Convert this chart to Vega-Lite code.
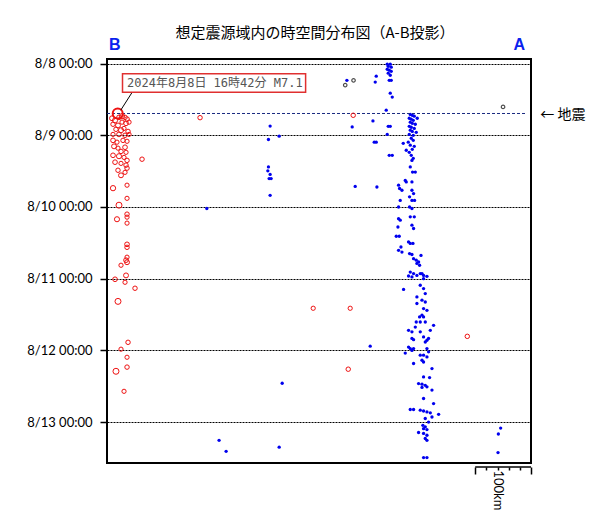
{
  "$schema": "https://vega.github.io/schema/vega-lite/v6.json",
  "width": 424,
  "height": 404,
  "autosize": "none",
  "padding": {"left": 107, "top": 59, "right": 75, "bottom": 62},
  "background": "white",
  "title": {
    "text": "想定震源域内の時空間分布図（A-B投影）",
    "font": "Noto Sans CJK JP",
    "fontSize": 15,
    "fontWeight": "normal",
    "color": "#000000",
    "anchor": "middle",
    "dx": -4,
    "dy": 5,
    "offset": 0
  },
  "datasets": {
    "red": [
      {"km": 19.2, "t": 16.7, "mag": 7.1},
      {"km": 9.0, "t": 18.3, "mag": 3.3},
      {"km": 14.4, "t": 19.0, "mag": 3.4},
      {"km": 21.5, "t": 18.0, "mag": 3.2},
      {"km": 26.9, "t": 17.6, "mag": 3.5},
      {"km": 32.3, "t": 18.0, "mag": 3.1},
      {"km": 35.9, "t": 18.6, "mag": 3.2},
      {"km": 10.8, "t": 20.3, "mag": 3.1},
      {"km": 19.7, "t": 20.7, "mag": 3.3},
      {"km": 26.9, "t": 19.6, "mag": 3.0},
      {"km": 34.1, "t": 20.0, "mag": 3.2},
      {"km": 39.5, "t": 19.6, "mag": 3.0},
      {"km": 16.1, "t": 22.0, "mag": 3.1},
      {"km": 25.1, "t": 22.3, "mag": 3.4},
      {"km": 30.5, "t": 21.7, "mag": 3.0},
      {"km": 37.7, "t": 22.7, "mag": 3.1},
      {"km": 10.8, "t": 23.7, "mag": 3.0},
      {"km": 21.5, "t": 23.7, "mag": 3.2},
      {"km": 32.3, "t": 24.0, "mag": 3.1},
      {"km": 39.5, "t": 23.7, "mag": 3.0},
      {"km": 10.8, "t": 25.7, "mag": 3.2},
      {"km": 17.9, "t": 26.3, "mag": 3.0},
      {"km": 28.7, "t": 25.7, "mag": 3.1},
      {"km": 35.9, "t": 26.0, "mag": 3.0},
      {"km": 12.6, "t": 27.7, "mag": 3.3},
      {"km": 19.7, "t": 28.3, "mag": 3.0},
      {"km": 32.3, "t": 28.0, "mag": 3.2},
      {"km": 25.1, "t": 29.4, "mag": 3.1},
      {"km": 34.1, "t": 29.7, "mag": 3.0},
      {"km": 10.8, "t": 30.7, "mag": 3.2},
      {"km": 21.5, "t": 31.0, "mag": 3.4},
      {"km": 30.5, "t": 31.4, "mag": 3.0},
      {"km": 35.9, "t": 32.4, "mag": 3.1},
      {"km": 14.4, "t": 33.0, "mag": 3.2},
      {"km": 25.1, "t": 33.4, "mag": 3.0},
      {"km": 34.1, "t": 34.0, "mag": 3.1},
      {"km": 62.8, "t": 32.0, "mag": 3.1},
      {"km": 19.7, "t": 35.7, "mag": 3.1},
      {"km": 25.1, "t": 37.4, "mag": 3.3},
      {"km": 32.3, "t": 36.4, "mag": 3.0},
      {"km": 35.9, "t": 35.0, "mag": 3.1},
      {"km": 35.9, "t": 40.7, "mag": 3.0},
      {"km": 10.8, "t": 41.7, "mag": 3.5},
      {"km": 35.9, "t": 45.1, "mag": 3.0},
      {"km": 21.5, "t": 47.4, "mag": 3.9},
      {"km": 35.9, "t": 50.4, "mag": 3.1},
      {"km": 35.9, "t": 51.4, "mag": 3.0},
      {"km": 17.9, "t": 52.1, "mag": 3.4},
      {"km": 35.9, "t": 53.4, "mag": 3.0},
      {"km": 35.9, "t": 60.5, "mag": 3.2},
      {"km": 35.9, "t": 61.5, "mag": 3.1},
      {"km": 35.9, "t": 64.8, "mag": 3.0},
      {"km": 34.1, "t": 65.8, "mag": 3.2},
      {"km": 35.9, "t": 66.5, "mag": 3.3},
      {"km": 25.1, "t": 67.5, "mag": 3.0},
      {"km": 34.1, "t": 70.9, "mag": 3.3},
      {"km": 14.4, "t": 72.2, "mag": 3.2},
      {"km": 32.3, "t": 73.2, "mag": 3.0},
      {"km": 50.2, "t": 75.2, "mag": 3.1},
      {"km": 19.7, "t": 79.6, "mag": 3.9},
      {"km": 37.7, "t": 93.3, "mag": 3.1},
      {"km": 25.1, "t": 95.6, "mag": 3.0},
      {"km": 35.9, "t": 98.3, "mag": 3.0},
      {"km": 16.1, "t": 103.0, "mag": 3.9},
      {"km": 35.9, "t": 101.6, "mag": 3.1},
      {"km": 30.5, "t": 109.7, "mag": 3.0},
      {"km": 166.8, "t": 18.1, "mag": 3.1},
      {"km": 441.3, "t": 17.3, "mag": 3.1},
      {"km": 369.6, "t": 81.9, "mag": 3.0},
      {"km": 435.9, "t": 81.9, "mag": 3.0},
      {"km": 432.4, "t": 102.3, "mag": 3.1},
      {"km": 645.8, "t": 91.3, "mag": 3.1}
    ],
    "black": [
      {"km": 427.0, "t": 7.2},
      {"km": 441.9, "t": 5.6},
      {"km": 709.9, "t": 14.5}
    ],
    "blue": [
      {"km": 502.3, "t": 0.2}, {"km": 507.7, "t": 0.2}, {"km": 504.1, "t": 0.9},
      {"km": 509.5, "t": 1.2}, {"km": 502.3, "t": 1.9}, {"km": 505.9, "t": 2.2},
      {"km": 509.5, "t": 2.6}, {"km": 504.1, "t": 3.2}, {"km": 507.7, "t": 3.9},
      {"km": 505.9, "t": 5.6}, {"km": 509.5, "t": 5.6}, {"km": 507.7, "t": 9.9},
      {"km": 511.3, "t": 11.2}, {"km": 500.5, "t": 15.6}, {"km": 482.6, "t": 4.2},
      {"km": 480.8, "t": 6.2}, {"km": 430.0, "t": 5.6}, {"km": 476.7, "t": 19.2},
      {"km": 439.5, "t": 21.2}, {"km": 504.1, "t": 21.0}, {"km": 507.7, "t": 21.0},
      {"km": 502.3, "t": 23.7}, {"km": 479.0, "t": 26.3}, {"km": 482.6, "t": 26.3},
      {"km": 505.9, "t": 30.7}, {"km": 511.3, "t": 30.7}, {"km": 444.9, "t": 41.1},
      {"km": 483.8, "t": 41.3}, {"km": 292.4, "t": 20.9}, {"km": 289.4, "t": 25.4},
      {"km": 308.6, "t": 24.3}, {"km": 289.4, "t": 34.6}, {"km": 288.3, "t": 35.9},
      {"km": 292.4, "t": 37.1}, {"km": 290.6, "t": 38.5}, {"km": 294.2, "t": 38.5},
      {"km": 292.4, "t": 44.1}, {"km": 178.9, "t": 48.5}, {"km": 314.0, "t": 107.0},
      {"km": 200.9, "t": 126.1}, {"km": 213.5, "t": 129.8}, {"km": 308.6, "t": 128.4},
      {"km": 705.6, "t": 122.0}, {"km": 701.5, "t": 124.0}, {"km": 700.9, "t": 130.2},
      {"km": 471.8, "t": 94.6},
      {"km": 543.6, "t": 17.0}, {"km": 547.2, "t": 17.3}, {"km": 550.8, "t": 17.6},
      {"km": 541.8, "t": 18.3}, {"km": 545.4, "t": 18.6}, {"km": 549.0, "t": 19.0},
      {"km": 556.1, "t": 18.3}, {"km": 543.6, "t": 19.6}, {"km": 547.2, "t": 20.0},
      {"km": 552.6, "t": 20.3}, {"km": 541.8, "t": 21.0}, {"km": 545.4, "t": 21.3},
      {"km": 550.8, "t": 21.7}, {"km": 543.6, "t": 22.3}, {"km": 547.2, "t": 22.7},
      {"km": 554.3, "t": 23.0}, {"km": 541.8, "t": 23.7}, {"km": 549.0, "t": 24.0},
      {"km": 545.4, "t": 25.0}, {"km": 549.0, "t": 25.7}, {"km": 540.0, "t": 26.3},
      {"km": 543.6, "t": 27.3}, {"km": 550.8, "t": 27.7}, {"km": 547.2, "t": 28.7},
      {"km": 541.8, "t": 29.7}, {"km": 545.4, "t": 30.7}, {"km": 549.0, "t": 31.7},
      {"km": 531.0, "t": 26.7}, {"km": 536.4, "t": 29.0}, {"km": 546.6, "t": 32.4},
      {"km": 543.6, "t": 34.6}, {"km": 547.7, "t": 36.3}, {"km": 552.6, "t": 36.3},
      {"km": 534.6, "t": 39.1}, {"km": 536.4, "t": 39.6}, {"km": 546.6, "t": 39.6},
      {"km": 522.6, "t": 40.7}, {"km": 524.4, "t": 41.8}, {"km": 528.7, "t": 42.4},
      {"km": 546.6, "t": 42.4}, {"km": 549.5, "t": 43.5}, {"km": 542.3, "t": 44.6},
      {"km": 546.6, "t": 45.8}, {"km": 551.3, "t": 45.8}, {"km": 525.6, "t": 45.8},
      {"km": 522.6, "t": 48.0}, {"km": 542.3, "t": 48.0}, {"km": 546.6, "t": 48.5},
      {"km": 550.8, "t": 51.3}, {"km": 543.6, "t": 51.3}, {"km": 522.6, "t": 51.9},
      {"km": 525.6, "t": 52.4}, {"km": 521.5, "t": 54.7}, {"km": 518.5, "t": 57.8},
      {"km": 523.8, "t": 57.8}, {"km": 546.6, "t": 54.1}, {"km": 549.5, "t": 55.2},
      {"km": 526.9, "t": 61.4}, {"km": 522.6, "t": 62.5}, {"km": 528.7, "t": 63.1},
      {"km": 540.5, "t": 59.7}, {"km": 543.6, "t": 60.2}, {"km": 548.4, "t": 60.2},
      {"km": 542.3, "t": 63.6}, {"km": 546.6, "t": 63.9}, {"km": 549.5, "t": 65.3},
      {"km": 554.3, "t": 65.8}, {"km": 558.5, "t": 66.4}, {"km": 562.8, "t": 64.2},
      {"km": 555.5, "t": 66.9}, {"km": 560.3, "t": 67.5}, {"km": 543.6, "t": 69.8},
      {"km": 549.5, "t": 70.3}, {"km": 555.5, "t": 70.9}, {"km": 561.5, "t": 70.3},
      {"km": 567.4, "t": 70.9}, {"km": 573.5, "t": 71.2}, {"km": 540.5, "t": 71.1},
      {"km": 546.6, "t": 71.4}, {"km": 564.6, "t": 70.3}, {"km": 567.4, "t": 72.0},
      {"km": 531.6, "t": 75.6}, {"km": 561.5, "t": 74.2}, {"km": 567.4, "t": 75.3},
      {"km": 570.5, "t": 77.0}, {"km": 555.5, "t": 78.1}, {"km": 564.6, "t": 79.2},
      {"km": 570.5, "t": 79.8}, {"km": 555.5, "t": 80.3}, {"km": 567.4, "t": 82.0},
      {"km": 573.5, "t": 82.6}, {"km": 564.6, "t": 84.2}, {"km": 560.3, "t": 84.8},
      {"km": 567.4, "t": 84.8}, {"km": 554.3, "t": 86.5}, {"km": 561.5, "t": 86.5},
      {"km": 570.5, "t": 86.5}, {"km": 585.4, "t": 87.6}, {"km": 552.6, "t": 88.2},
      {"km": 540.5, "t": 89.3}, {"km": 546.6, "t": 89.8}, {"km": 561.5, "t": 89.8},
      {"km": 579.5, "t": 89.3}, {"km": 546.6, "t": 92.0}, {"km": 549.5, "t": 92.4},
      {"km": 567.4, "t": 91.5}, {"km": 576.4, "t": 92.0}, {"km": 573.5, "t": 92.6},
      {"km": 570.5, "t": 93.2}, {"km": 540.5, "t": 94.9}, {"km": 543.6, "t": 95.4},
      {"km": 549.5, "t": 95.4}, {"km": 546.6, "t": 96.0}, {"km": 534.6, "t": 96.9},
      {"km": 573.5, "t": 95.4}, {"km": 576.4, "t": 96.5}, {"km": 561.5, "t": 97.6},
      {"km": 567.4, "t": 97.6}, {"km": 573.5, "t": 98.2}, {"km": 549.5, "t": 100.4},
      {"km": 564.6, "t": 99.3}, {"km": 567.4, "t": 99.9}, {"km": 582.5, "t": 102.1},
      {"km": 567.4, "t": 104.9}, {"km": 578.2, "t": 105.1}, {"km": 558.5, "t": 107.1},
      {"km": 564.6, "t": 107.3}, {"km": 570.5, "t": 107.7}, {"km": 573.5, "t": 108.2},
      {"km": 564.6, "t": 108.4}, {"km": 567.4, "t": 112.1}, {"km": 582.5, "t": 109.3},
      {"km": 585.4, "t": 113.8}, {"km": 543.6, "t": 115.8}, {"km": 549.5, "t": 115.8},
      {"km": 561.5, "t": 116.0}, {"km": 567.4, "t": 116.3}, {"km": 573.5, "t": 116.6},
      {"km": 579.5, "t": 116.9}, {"km": 582.5, "t": 118.3}, {"km": 594.4, "t": 117.4},
      {"km": 570.5, "t": 118.8}, {"km": 576.4, "t": 120.0}, {"km": 566.2, "t": 121.1},
      {"km": 570.5, "t": 121.6}, {"km": 567.4, "t": 122.2}, {"km": 573.5, "t": 122.5},
      {"km": 558.5, "t": 123.5}, {"km": 567.4, "t": 123.8}, {"km": 573.5, "t": 124.4},
      {"km": 570.5, "t": 125.5}, {"km": 573.5, "t": 126.1}, {"km": 567.4, "t": 131.9},
      {"km": 573.5, "t": 131.9}
    ]
  },
  "layer": [
    {
      "data": {"name": "blue"},
      "mark": {"type": "circle", "color": "#0000ee", "size": 11, "opacity": 1},
      "encoding": {
        "x": {"field": "km", "type": "quantitative", "scale": {"domain": [0, 760], "nice": false, "zero": false}, "axis": null},
        "y": {
          "field": "t", "type": "quantitative",
          "scale": {"domain": [-1.54, 133.7], "reverse": true, "nice": false, "zero": false},
          "axis": {
            "title": null, "values": [0, 24, 48, 72, 96, 120],
            "labelExpr": "'8/' + (8 + datum.value / 24) + ' 00:00'",
            "domain": false, "grid": true, "gridColor": "#000000", "gridDash": [2, 1], "gridWidth": 1, "gridOpacity": 1,
            "ticks": true, "tickSize": 7, "tickColor": "#000000", "tickWidth": 1.5,
            "labelFont": "Lato", "labelFontSize": 13, "labelColor": "#000000", "labelPadding": 8
          }
        }
      }
    },
    {
      "data": {"values": [{}]},
      "mark": {"type": "rule", "color": "#1a2a80", "strokeDash": [3, 2], "strokeWidth": 1},
      "encoding": {
        "x": {"datum": 0, "type": "quantitative", "scale": {"domain": [0, 760], "nice": false, "zero": false}, "axis": null},
        "x2": {"datum": 751.7},
        "y": {"datum": 16.7, "type": "quantitative", "scale": {"domain": [-1.54, 133.7], "reverse": true, "nice": false, "zero": false}, "axis": null}
      }
    },
    {
      "data": {"name": "red"},
      "mark": {"type": "point", "shape": "circle", "filled": false, "color": "#ee1111", "opacity": 1},
      "encoding": {
        "x": {
          "field": "km", "type": "quantitative",
          "scale": {"domain": [0, 760], "nice": false, "zero": false},
          "axis": {
            "orient": "top", "title": null, "values": [13.1, 737.9],
            "labelExpr": "datum.value < 100 ? 'B' : 'A'",
            "domain": false, "grid": false, "ticks": false, "labelFlush": false,
            "labelColor": "#0a22ee", "labelFont": "Liberation Sans", "labelFontWeight": "bold", "labelFontSize": 16, "labelPadding": 7
          }
        },
        "y": {"field": "t", "type": "quantitative", "scale": {"domain": [-1.54, 133.7], "reverse": true, "nice": false, "zero": false}, "axis": null},
        "size": {"field": "mag", "type": "quantitative", "scale": {"domain": [3, 7.1], "range": [18, 100]}, "legend": null},
        "strokeWidth": {"condition": {"test": "datum.mag > 7", "value": 2}, "value": 1}
      }
    },
    {
      "data": {"name": "black"},
      "mark": {"type": "point", "shape": "circle", "filled": false, "color": "#000000", "size": 12, "strokeWidth": 1.2},
      "encoding": {
        "x": {"field": "km", "type": "quantitative", "scale": {"domain": [0, 760], "nice": false, "zero": false}, "axis": null},
        "y": {"field": "t", "type": "quantitative", "scale": {"domain": [-1.54, 133.7], "reverse": true, "nice": false, "zero": false}, "axis": null}
      }
    },
    {
      "data": {"values": [{}]},
      "mark": {"type": "rule", "color": "#000000", "strokeWidth": 1},
      "encoding": {
        "x": {"datum": 44.3, "type": "quantitative", "scale": {"domain": [0, 760], "nice": false, "zero": false}, "axis": null},
        "x2": {"datum": 24.6},
        "y": {"datum": 9.84, "type": "quantitative", "scale": {"domain": [-1.54, 133.7], "reverse": true, "nice": false, "zero": false}, "axis": null},
        "y2": {"datum": 15.6}
      }
    },
    {
      "data": {"values": [{}]},
      "mark": {"type": "rect", "fill": "#ffffff", "stroke": "#e03030", "strokeWidth": 1.5},
      "encoding": {
        "x": {"datum": 27.8, "type": "quantitative", "scale": {"domain": [0, 760], "nice": false, "zero": false}, "axis": null},
        "x2": {"datum": 356},
        "y": {"datum": 3.41, "type": "quantitative", "scale": {"domain": [-1.54, 133.7], "reverse": true, "nice": false, "zero": false}, "axis": null},
        "y2": {"datum": 9.61}
      }
    },
    {
      "data": {"values": [{"label": "2024年8月8日 16時42分 M7.1"}]},
      "mark": {"type": "text", "align": "left", "baseline": "middle", "font": "DejaVu Sans Mono, Noto Sans CJK JP", "fontSize": 12, "color": "#555555"},
      "encoding": {
        "x": {"datum": 35.9, "type": "quantitative", "scale": {"domain": [0, 760], "nice": false, "zero": false}, "axis": null},
        "y": {"datum": 6.5, "type": "quantitative", "scale": {"domain": [-1.54, 133.7], "reverse": true, "nice": false, "zero": false}, "axis": null},
        "text": {"field": "label"}
      }
    },
    {
      "data": {"values": [{"label": "← 地震"}]},
      "mark": {"type": "text", "align": "left", "baseline": "middle", "font": "Noto Sans CJK JP", "fontSize": 14, "color": "#000000", "dy": 2},
      "encoding": {
        "x": {"datum": 776.8, "type": "quantitative", "scale": {"domain": [0, 760], "nice": false, "zero": false}, "axis": null},
        "y": {"datum": 16.7, "type": "quantitative", "scale": {"domain": [-1.54, 133.7], "reverse": true, "nice": false, "zero": false}, "axis": null},
        "text": {"field": "label"}
      }
    },
    {
      "data": {"values": [{}]},
      "mark": {"type": "rule", "color": "#000000", "strokeWidth": 1.5},
      "encoding": {
        "x": {
          "datum": 660, "type": "quantitative",
          "scale": {"domain": [0, 760], "nice": false, "zero": false},
          "axis": {
            "orient": "bottom", "offset": 4, "title": null,
            "values": [660, 680, 700, 720, 740, 760],
            "labelExpr": "datum.value == 700 ? '100km' : ''",
            "domain": false, "grid": false, "ticks": true, "tickColor": "#000000", "tickWidth": 1.5,
            "tickSize": {"condition": {"test": "datum.value == 660 || datum.value == 760", "value": 7}, "value": 3},
            "labelAngle": 90, "labelFlush": false, "labelOverlap": false,
            "labelFont": "Lato", "labelFontSize": 13, "labelColor": "#000000", "labelPadding": 0, "labelDy": -3
          }
        },
        "x2": {"datum": 760},
        "y": {"datum": 135.0, "type": "quantitative", "scale": {"domain": [-1.54, 133.7], "reverse": true, "nice": false, "zero": false}, "axis": null}
      }
    }
  ],
  "resolve": {"axis": {"x": "independent", "y": "independent"}},
  "config": {
    "view": {"stroke": "#000000", "strokeWidth": 2}
  }
}
